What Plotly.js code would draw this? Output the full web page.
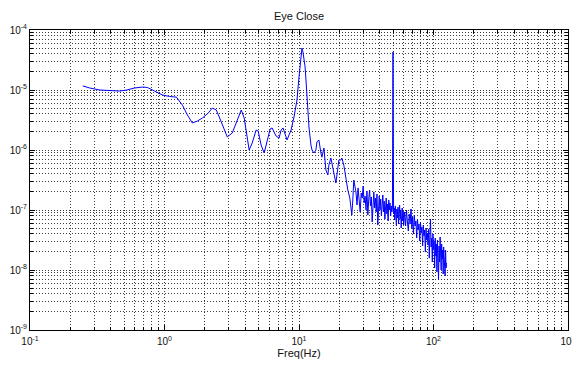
<!DOCTYPE html>
<html>
<head>
<meta charset="utf-8">
<script src="https://cdn.plot.ly/plotly-3.0.1.min.js"></script>
<style>html,body{margin:0;padding:0;background:#fff;overflow:hidden;}#chart{width:572px;height:367px;}</style>
</head>
<body>
<div id="chart"></div>
<script>
// Smooth low-frequency part and alpha peak (Hz, power)
const lowFreq = [
  0.247, 0.278, 0.330, 0.391, 0.464, 0.523, 0.600, 0.687, 0.748, 0.843,
  0.966, 1.089, 1.227, 1.359, 1.480, 1.612, 1.755, 1.912, 2.118, 2.268,
  2.428, 2.644, 2.929, 3.189, 3.473, 3.72, 3.913, 4.12, 4.26, 4.49,
  4.80, 4.97, 5.23, 5.51, 5.79, 6.10, 6.31, 6.53, 6.75, 7.11,
  7.36, 7.61, 7.88, 8.15, 8.43, 8.73, 9.18, 9.66, 10.0, 10.35,
  10.52, 10.70, 11.08, 11.27, 11.47, 11.66, 11.86, 12.27, 12.49, 12.92,
  13.36, 13.59, 14.06, 14.55, 14.80, 15.32, 15.85, 16.40, 16.68, 17.26,
  17.86, 18.17, 18.80, 19.45, 19.78, 20.47, 20.82, 21.54, 22.29, 23.07,
  23.87, 24.70, 25.12, 25.55
];
const lowPsd = [
  1.17e-5, 1.08e-5, 1.0e-5, 9.8e-6, 9.6e-6, 1.0e-5, 1.08e-5, 1.12e-5, 1.10e-5, 9.6e-6,
  8.25e-6, 7.8e-6, 7.6e-6, 5.6e-6, 3.83e-6, 2.82e-6, 3.04e-6, 3.41e-6, 4.14e-6, 5.0e-6,
  4.64e-6, 2.93e-6, 1.65e-6, 1.92e-6, 3.16e-6, 4.64e-6, 3.41e-6, 1.58e-6, 1.0e-6, 1.31e-6,
  2.15e-6, 2.07e-6, 1.21e-6, 8.9e-7, 1.47e-6, 2.24e-6, 2.33e-6, 1.92e-6, 1.71e-6, 1.58e-6,
  2.15e-6, 2.33e-6, 1.85e-6, 1.47e-6, 1.78e-6, 2.15e-6, 3.55e-6, 6.8e-6, 1.65e-5, 3.83e-5,
  5.0e-5, 4.3e-5, 2.51e-5, 1.47e-5, 6.8e-6, 3.83e-6, 2.42e-6, 1.21e-6, 1.0e-6, 8.9e-7,
  1.0e-6, 1.36e-6, 1.47e-6, 8.9e-7, 7.6e-7, 1.08e-6, 4.64e-7, 3.83e-7, 5.6e-7, 7.36e-7,
  5.2e-7, 3.83e-7, 2.82e-7, 5.0e-7, 6.8e-7, 6.8e-7, 7.36e-7, 5.6e-7, 3.16e-7, 2.15e-7,
  1.58e-7, 8.25e-8, 1.47e-7, 3.16e-7
];
// Noisy band 26.5 - 50.5 Hz (incl. 50 Hz line noise)
const midFreq = [
  26.5, 27, 27.5, 28, 28.5, 29, 29.5, 30, 30.5, 31,
  31.5, 32, 32.5, 33, 33.5, 34, 34.5, 35, 35.5, 36,
  36.5, 37, 37.5, 38, 38.5, 39, 39.5, 40, 40.5, 41,
  41.5, 42, 42.5, 43, 43.5, 44, 44.5, 45, 45.5, 46,
  46.5, 47, 47.5, 48, 48.5, 49, 49.5, 50, 50.5
];
const midPsd = [
  2.00e-7, 1.21e-7, 2.33e-7, 1.47e-7, 9.26e-8, 1.92e-7, 1.58e-7, 2.51e-7, 1.31e-7, 1.71e-7,
  1.0e-7, 2.07e-7, 8.25e-8, 1.52e-7, 2.15e-7, 1.17e-7, 1.65e-7, 6.31e-8, 1.47e-7, 2.00e-7,
  1.08e-7, 1.58e-7, 9.26e-8, 1.85e-7, 5.62e-8, 1.36e-7, 1.71e-7, 1.0e-7, 1.52e-7, 7.94e-8,
  1.31e-7, 1.78e-7, 9.26e-8, 1.41e-7, 7.08e-8, 1.21e-7, 1.58e-7, 8.58e-8, 1.26e-7, 6.56e-8,
  1.47e-7, 1.0e-7, 1.31e-7, 7.94e-8, 1.17e-7, 9.26e-8, 1.08e-7, 4.3e-5, 8.58e-8
];
// 51 - 60 Hz
const hiFreq = [
  51, 51.5, 52, 52.5, 53, 53.5, 54, 54.5, 55, 55.5,
  56, 56.5, 57, 57.5, 58, 58.5, 59, 59.5, 60
];
const hiPsd = [
  1.08e-7, 6.81e-8, 1.17e-7, 8.25e-8, 5.41e-8, 1.04e-7, 7.36e-8, 1.12e-7, 5.84e-8, 9.26e-8,
  1.21e-7, 7.08e-8, 1.0e-7, 5.01e-8, 8.91e-8, 1.08e-7, 6.56e-8, 9.62e-8, 5.62e-8
];
// 61 - 125 Hz
const topFreq = [
  61, 62, 63, 64, 65, 66, 67, 68, 69, 70,
  71, 72, 73, 74, 75, 76, 77, 78, 79, 80,
  81, 82, 83, 84, 85, 86, 87, 88, 89, 90,
  91, 92, 93, 94, 95, 96, 97, 98, 99, 100,
  101, 102, 103, 104, 105, 106, 107, 108, 109, 110,
  111, 112, 113, 114, 115, 116, 117, 118, 119, 120,
  121, 122, 123, 124, 125
];
const topPsd = [
  9.26e-8, 5.41e-8, 1.0e-7, 6.31e-8, 4.47e-8, 8.58e-8, 5.84e-8, 1.04e-7, 5.01e-8, 7.64e-8,
  3.98e-8, 8.25e-8, 5.41e-8, 6.56e-8, 3.41e-8, 7.08e-8, 4.64e-8, 5.84e-8, 3.04e-8, 6.31e-8,
  4.14e-8, 5.21e-8, 2.51e-8, 5.62e-8, 3.69e-8, 4.64e-8, 2.00e-8, 5.01e-8, 3.16e-8, 4.14e-8,
  2.61e-8, 4.82e-8, 1.58e-8, 3.69e-8, 7.08e-8, 2.42e-8, 3.41e-8, 1.36e-8, 3.98e-8, 2.24e-8,
  3.04e-8, 1.08e-8, 3.41e-8, 1.71e-8, 2.71e-8, 9.26e-9, 3.16e-8, 1.58e-8, 6.81e-9, 2.51e-8,
  1.36e-8, 3.55e-8, 1.78e-8, 1.0e-8, 2.71e-8, 1.52e-8, 2.15e-8, 8.58e-9, 2.42e-8, 1.36e-8,
  1.78e-8, 7.94e-9, 2.15e-8, 1.08e-8, 1.31e-8
];

const xTickVals = [0.1, 1, 10, 100, 1000];
const xTickText = ['10<sup>-1</sup>', '10<sup>0</sup>', '10<sup>1</sup>', '10<sup>2</sup>', '10<sup>3</sup>'];
const yTickVals = [1e-9, 1e-8, 1e-7, 1e-6, 1e-5, 1e-4];
const yTickText = ['10<sup>-9</sup>', '10<sup>-8</sup>', '10<sup>-7</sup>', '10<sup>-6</sup>', '10<sup>-5</sup>', '10<sup>-4</sup>'];

const freq = lowFreq.concat(midFreq, hiFreq, topFreq);
const psd = lowPsd.concat(midPsd, hiPsd, topPsd);

function minorVals(decades) {
  const out = [];
  decades.forEach(function (d) { for (let k = 2; k <= 9; k++) out.push(k * d); });
  return out;
}
const gridDash = '1px,2px';
const gridCol = '#3a3a3a';

const axisCommon = {
  type: 'log',
  tickmode: 'array',
  ticks: 'inside',
  ticklen: 5,
  tickwidth: 1,
  tickcolor: '#000',
  showline: true,
  linecolor: '#000',
  linewidth: 1,
  mirror: 'allticks',
  showgrid: true,
  gridcolor: gridCol,
  griddash: gridDash,
  gridwidth: 1,
  zeroline: false,
  automargin: false,
  ticklabeloverflow: 'allow',
  tickfont: {family: 'Liberation Sans, Arial, sans-serif', size: 10, color: '#111'}
};

const xaxis = Object.assign({}, axisCommon, {
  range: [-1, 3],
  tickvals: xTickVals,
  ticktext: xTickText,
  ticklabelstandoff: 2,
  minor: {tickmode: 'array', tickvals: minorVals([0.1, 1, 10, 100]), ticks: 'inside', ticklen: 3,
          tickcolor: '#000', showgrid: true, gridcolor: gridCol, griddash: gridDash, gridwidth: 1},
  title: {text: 'Freq(Hz)', font: {family: 'Liberation Sans, Arial, sans-serif', size: 11, color: '#111'}, standoff: 0}
});
const yaxis = Object.assign({}, axisCommon, {
  range: [-9, -4],
  tickvals: yTickVals,
  ticktext: yTickText,
  minor: {tickmode: 'array', tickvals: minorVals([1e-9, 1e-8, 1e-7, 1e-6, 1e-5]), ticks: 'inside', ticklen: 3,
          tickcolor: '#000', showgrid: true, gridcolor: gridCol, griddash: gridDash, gridwidth: 1}
});

const data = [{
  type: 'scatter',
  mode: 'lines',
  x: freq,
  y: psd,
  line: {color: '#0000ff', width: 1},
  hoverinfo: 'skip'
}];

const layout = {
  width: 572,
  height: 367,
  margin: {l: 30, r: 4, t: 30, b: 37},
  paper_bgcolor: '#ffffff',
  plot_bgcolor: '#ffffff',
  showlegend: false,
  font: {family: 'Liberation Sans, Arial, sans-serif', size: 10, color: '#111'},
  title: {text: 'Eye Close', font: {family: 'Liberation Sans, Arial, sans-serif', size: 11, color: '#111'},
          x: 0.5, xref: 'paper', xanchor: 'center', y: 1 - 16 / 367, yref: 'container', yanchor: 'middle'},
  xaxis: xaxis,
  yaxis: yaxis
};

Plotly.newPlot('chart', data, layout, {staticPlot: true, displayModeBar: false});
</script>
</body>
</html>
